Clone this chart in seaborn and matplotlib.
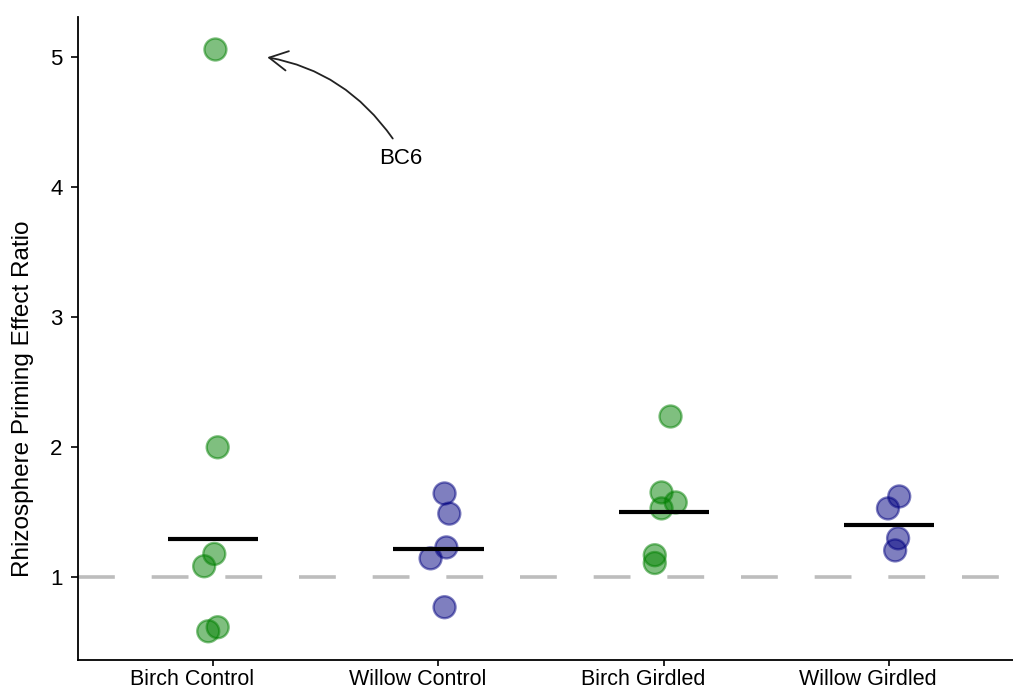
import numpy as np
import pandas as pd
import matplotlib
matplotlib.use("Agg")
import matplotlib.pyplot as plt
import seaborn as sns

# ---- data ----
categories = ["Birch Control", "Willow Control", "Birch Girdled", "Willow Girdled"]
tree = ["Birch", "Willow", "Birch", "Willow"]

birch_control = [5.06, 2.00, 1.18, 1.085, 0.616, 0.585]
willow_control = [1.645, 1.49, 1.23, 1.146, 0.77]
birch_girdled = [2.237, 1.653, 1.576, 1.53, 1.17, 1.11]
willow_girdled = [1.622, 1.53, 1.30, 1.207]

# horizontal jitter of the points (category units) as seen in the picture
jit_birch_control = [0.01, 0.02, 0.005, -0.04, 0.02, -0.022]
jit_willow_control = [0.027, 0.048, 0.035, -0.035, 0.027]
jit_birch_girdled = [0.03, -0.01, 0.053, -0.01, -0.04, -0.04]
jit_willow_girdled = [0.045, -0.005, 0.04, 0.027]

values = [birch_control, willow_control, birch_girdled, willow_girdled]
jitters = [jit_birch_control, jit_willow_control, jit_birch_girdled, jit_willow_girdled]

rows = []
for i, (cat, tr, vals, jit) in enumerate(zip(categories, tree, values, jitters)):
    for v, j in zip(vals, jit):
        rows.append({"group": cat, "tree": tr, "pos": i + j, "ratio": v})
df = pd.DataFrame(rows)

# geometric means (black bars)
gmeans = [float(np.exp(np.mean(np.log(v)))) for v in values]

sns.set_theme(style="ticks")
plt.rcParams["font.family"] = ["Liberation Sans", "DejaVu Sans"]
plt.rcParams["text.color"] = "black"
plt.rcParams["axes.labelcolor"] = "black"
plt.rcParams["xtick.color"] = "black"
plt.rcParams["ytick.color"] = "black"

fig = plt.figure(figsize=(10.13, 6.88), dpi=100)
ax = fig.add_axes([0.077, 0.0407, 0.923, 0.9346])

ax.axhline(1.0, color="#bdbdbd", lw=2.6, linestyle=(0, (10.2, 10.2)), zorder=1)

sns.scatterplot(data=df, x="pos", y="ratio", hue="tree",
                palette={"Birch": "green", "Willow": "navy"},
                s=250, alpha=0.5, linewidth=1.7, legend=False, ax=ax, zorder=3)
for coll in ax.collections:
    fc = coll.get_facecolors()
    coll.set_edgecolors(fc)

ax.hlines(gmeans, np.arange(len(categories)) - 0.2, np.arange(len(categories)) + 0.2,
          color="black", lw=3.0, zorder=4)

ax.annotate("BC6", xy=(0.24, 5.0), xytext=(0.833, 4.225),
            ha="center", va="center", fontsize=16, color="black",
            arrowprops=dict(arrowstyle="->,head_length=0.6,head_width=0.32",
                            connectionstyle="angle3,angleA=120,angleB=-10",
                            color="#222222", lw=1.3, shrinkA=5, shrinkB=0,
                            relpos=(0.6, 0.5), mutation_scale=22))

ax.set_xlim(-0.6, 3.55)
ax.set_ylim(0.364, 5.31)
# tick marks at the categories; labels (minor ticks) sit slightly to the left, as in the reference
ax.set_xticks(range(len(categories)))
ax.set_xticklabels([""] * len(categories))
ax.set_xticks(np.arange(len(categories)) - 0.093, minor=True)
ax.set_xticklabels(categories, minor=True, fontsize=15.5)
ax.set_yticks([1, 2, 3, 4, 5])
ax.set_yticklabels(["1", "2", "3", "4", "5"], fontsize=16)
ax.set_xlabel("")
ax.set_ylabel("Rhizosphere Priming Effect Ratio", fontsize=17.5, color="black")
ax.yaxis.set_label_coords(-0.047, 0.407)

for s in ["top", "right"]:
    ax.spines[s].set_visible(False)
for s in ["left", "bottom"]:
    ax.spines[s].set_color("black")
    ax.spines[s].set_linewidth(1.3)
ax.tick_params(axis="y", length=5, width=1.2, pad=6, colors="black")
ax.tick_params(axis="x", which="major", length=4, width=1.2, pad=2.5, colors="black")
ax.tick_params(axis="x", which="minor", length=0, pad=6.5, colors="black")

fig.savefig("out.png", dpi=100)
